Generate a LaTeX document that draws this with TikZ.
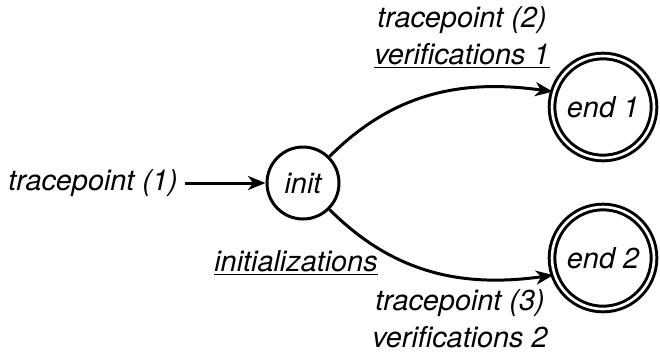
\documentclass[tikz,border=0pt]{standalone}
\usepackage{fontspec}
\setmainfont{TeX Gyre Heros}
\usetikzlibrary{arrows.meta, positioning}

\begin{document}
\begin{tikzpicture}[font=\fontsize{16.4}{21}\selectfont\itshape, line width=1.7pt,
    >={Stealth[length=10pt,width=8pt,inset=3pt]}]
  \useasboundingbox (0,0) rectangle (13.2,7.06);
  \node[draw,circle,minimum size=1.44cm,inner sep=0] (init) at (6.06,3.40) {init};
  \node[draw,circle,double,double distance=1.5pt,minimum size=2.04cm,inner sep=0] (end1) at (12.06,4.92) {end 1};
  \node[draw,circle,double,double distance=1.5pt,minimum size=2.04cm,inner sep=0] (end2) at (12.06,1.90) {end 2};
  \node (tp1) at (1.86,3.40) {tracepoint (1)};
  \draw[->] (tp1) -- (init);
  \draw[->] (init.45) to[out=45,in=172] (end1.163);
  \draw[->] (init.-45) to[out=-45,in=188] (end2.199);
  \node[align=center] (up) at (9.24,6.31)
  {tracepoint (2) \\ \underline{verifications 1}};
  \node (ini) at (5.92,1.80) {\underline{initializations}};
  \node[align=center] (low) at (9.2,0.68)
  {tracepoint (3) \\ verifications 2};
\end{tikzpicture}
\end{document}
